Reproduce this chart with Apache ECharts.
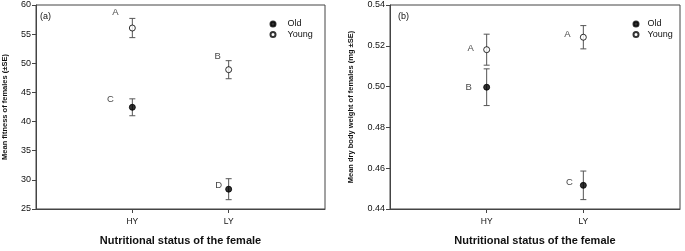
<!DOCTYPE html>
<html>
<head>
<meta charset="utf-8">
<script src="https://cdn.jsdelivr.net/npm/echarts@6/dist/echarts.min.js"></script>
<style>
  html, body { margin: 0; padding: 0; background: #fff; }
  #main { width: 685px; height: 251px; }
</style>
</head>
<body>
<div id="main"></div>
<script>
// categories on the x axis (placed at 1 and 2 of a 0..3 value axis)
var categories = ['HY', 'LY'];

// panel (a): mean fitness of females
var fitOld = [42.45, 28.4];
var fitOldSE = [1.45, 1.8];
var fitYoung = [56.05, 48.9];
var fitYoungSE = [1.65, 1.55];
var fitOldLetters = ['C', 'D'];
var fitYoungLetters = ['A', 'B'];

// panel (b): mean dry body weight of females
var wtOld = [0.4997, 0.4516];
var wtOldSE = [0.009, 0.007];
var wtYoung = [0.5181, 0.5242];
var wtYoungSE = [0.0076, 0.0057];
var wtOldLetters = ['B', 'C'];
var wtYoungLetters = ['A', 'A'];

var fitTicks = [25, 30, 35, 40, 45, 50, 55, 60];
var wtTicks = [0.44, 0.46, 0.48, 0.50, 0.52, 0.54];

var FONT = 'Liberation Sans, Arial, sans-serif';
var AXIS = '#444';
var TXT = '#111';

function bars(vals, se) {
    return vals.map(function (v, i) { return [i + 1, v - se[i], v + se[i]]; });
}
function withLetters(vals, letters, offsets) {
    return vals.map(function (v, i) {
        return {
            value: [i + 1, v],
            label: {
                show: true, formatter: letters[i], position: 'inside',
                offset: offsets[i], color: TXT, fontSize: 9.5, fontFamily: FONT,
                textBorderWidth: 0
            }
        };
    });
}

function errorSeries(idx, data) {
    return {
        type: 'custom', xAxisIndex: idx, yAxisIndex: idx, z: 1,
        data: data,
        renderItem: function (params, api) {
            var x = api.coord([api.value(0), api.value(1)])[0];
            var lo = api.coord([api.value(0), api.value(1)])[1];
            var hi = api.coord([api.value(0), api.value(2)])[1];
            var st = { stroke: '#555', lineWidth: 1 };
            return {
                type: 'group', children: [
                    { type: 'line', shape: { x1: x, y1: lo, x2: x, y2: hi }, style: st },
                    { type: 'line', shape: { x1: x - 3, y1: lo, x2: x + 3, y2: lo }, style: st },
                    { type: 'line', shape: { x1: x - 3, y1: hi, x2: x + 3, y2: hi }, style: st }
                ]
            };
        }
    };
}

function xAxis(idx) {
    return {
        type: 'value', gridIndex: idx, min: 0, max: 3, interval: 1,
        name: 'Nutritional status of the female', nameLocation: 'middle', nameGap: 26,
        nameTextStyle: { fontSize: 11, fontWeight: 'bold', color: TXT, fontFamily: FONT },
        axisLine: { lineStyle: { color: AXIS } },
        axisTick: { customValues: [1, 2], length: 4, lineStyle: { color: AXIS } },
        axisLabel: {
            customValues: [1, 2], margin: 8, fontSize: 8.5, color: TXT, fontFamily: FONT,
            formatter: function (v) { return categories[v - 1] || ''; }
        },
        splitLine: { show: false }
    };
}

function yAxis(idx, ticks, name, gap, fmt) {
    var step = ticks[1] - ticks[0];
    return {
        type: 'value', gridIndex: idx, min: ticks[0], max: ticks[ticks.length - 1],
        interval: step,
        name: name, nameLocation: 'middle', nameGap: gap,
        nameTextStyle: { fontSize: 7.5, fontWeight: 'bold', color: TXT, fontFamily: FONT },
        axisLine: { show: true, lineStyle: { color: AXIS } },
        axisTick: { show: true, length: 4, lineStyle: { color: AXIS } },
        axisLabel: { margin: 5, fontSize: 9, color: TXT, fontFamily: FONT, formatter: fmt },
        splitLine: { show: false }
    };
}

function oldSeries(idx, data) {
    return {
        name: 'Old', type: 'scatter', xAxisIndex: idx, yAxisIndex: idx, z: 3,
        symbol: 'circle', symbolSize: 6,
        itemStyle: { color: '#000', borderColor: '#000', borderWidth: 1 },
        data: data
    };
}
function youngSeries(idx, data) {
    return {
        name: 'Young', type: 'scatter', xAxisIndex: idx, yAxisIndex: idx, z: 3,
        symbol: 'circle', symbolSize: 6,
        itemStyle: { color: '#fff', borderColor: '#000', borderWidth: 1 },
        data: data
    };
}

function legend(left, pad) {
    return {
        data: ['Old', 'Young'], orient: 'vertical', left: left, top: 19.5, padding: 0,
        itemWidth: 5, itemHeight: 5, itemGap: 1.5, icon: 'circle',
        textStyle: { fontSize: 9, lineHeight: 9, color: TXT, fontFamily: FONT, padding: [0, 0, 0, pad] }
    };
}

var myChart = echarts.init(document.getElementById('main'));
var option = {
    backgroundColor: '#fff',
    animation: false,
    grid: [
        { left: 33, right: 360, top: 5, bottom: 36, show: true, borderColor: AXIS, borderWidth: 1 },
        { left: 390, right: 5, top: 5, bottom: 36, show: true, borderColor: AXIS, borderWidth: 1 }
    ],
    xAxis: [xAxis(0), xAxis(1)],
    yAxis: [
        yAxis(0, fitTicks, 'Mean fitness of females (\u00b1SE)', 27, function (v) { return v; }),
        yAxis(1, wtTicks, 'Mean dry body weight of females (mg \u00b1SE)', 35, function (v) { return v.toFixed(2); })
    ],
    legend: [legend(269.5, 7), legend(632.5, 4)],
    graphic: [
        { type: 'text', left: 40, top: 12, style: { text: '(a)', fontSize: 9, fill: TXT, fontFamily: FONT } },
        { type: 'text', left: 398, top: 12, style: { text: '(b)', fontSize: 9, fill: TXT, fontFamily: FONT } }
    ],
    series: [
        errorSeries(0, bars(fitOld, fitOldSE)),
        errorSeries(0, bars(fitYoung, fitYoungSE)),
        oldSeries(0, withLetters(fitOld, fitOldLetters, [[-22, -8], [-10, -4]])),
        youngSeries(0, withLetters(fitYoung, fitYoungLetters, [[-17, -16], [-11, -13]])),
        errorSeries(1, bars(wtOld, wtOldSE)),
        errorSeries(1, bars(wtYoung, wtYoungSE)),
        oldSeries(1, withLetters(wtOld, wtOldLetters, [[-18, 0], [-14, -3]])),
        youngSeries(1, withLetters(wtYoung, wtYoungLetters, [[-16, -1], [-16, -3]]))
    ]
};
myChart.setOption(option);
</script>
</body>
</html>
